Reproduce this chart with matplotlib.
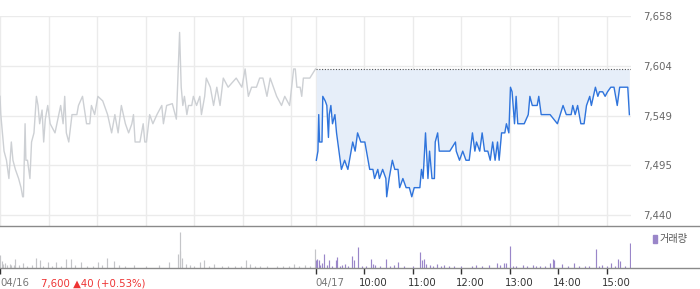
import numpy as np
import matplotlib
matplotlib.use('Agg')
import matplotlib.pyplot as plt
from matplotlib.lines import Line2D
from matplotlib.transforms import offset_copy

plt.rcParams['font.family'] = ['DejaVu Sans', 'Noto Sans CJK KR']

# minutes after 09:00, previous day (04/16)
prev_min = [0, 1, 5, 8, 11, 14, 16, 19, 23, 26, 28, 29, 31, 32, 34, 37, 39, 42, 45, 47,
            49, 52, 54, 56, 59, 62, 68, 75, 78, 80, 82, 85, 89, 95, 97, 102, 107, 111, 113, 117,
            121, 127, 133, 138, 142, 146, 150, 155, 159, 163, 165, 167, 173, 177, 179, 181, 185, 189, 194, 200,
            202, 206, 213, 218, 222, 224, 226, 228, 231, 233, 237, 239, 243, 247, 249, 253, 255, 260, 264, 268,
            272, 276, 282, 292, 299, 303, 307, 311, 317, 321, 325, 330, 334, 338, 342, 348, 352, 358, 363, 365,
            367, 371, 373, 375, 383, 390]
prev_price = [7570, 7550, 7510, 7500, 7480, 7520, 7500, 7490, 7480, 7470, 7460, 7460, 7540, 7500, 7500, 7480, 7520, 7530, 7570, 7560,
              7540, 7555, 7520, 7545, 7560, 7540, 7530, 7560, 7540, 7570, 7530, 7520, 7550, 7550, 7560, 7570, 7540, 7540, 7560, 7550,
              7570, 7565, 7550, 7530, 7550, 7530, 7560, 7540, 7530, 7540, 7550, 7520, 7520, 7540, 7520, 7520, 7550, 7540, 7550, 7560,
              7540, 7560, 7562, 7545, 7640, 7580, 7560, 7570, 7550, 7560, 7560, 7570, 7560, 7570, 7550, 7570, 7590, 7580, 7560, 7580,
              7560, 7590, 7580, 7590, 7580, 7600, 7570, 7580, 7580, 7590, 7590, 7570, 7590, 7580, 7570, 7560, 7570, 7560, 7600, 7600,
              7580, 7580, 7570, 7590, 7590, 7600]

# minutes after 09:00, today (04/17)
today_min = [1, 3, 4, 5, 8, 9, 12, 14, 16, 17, 19, 21, 24, 26, 29, 32, 36, 40, 42, 46,
             49, 52, 56, 61, 65, 67, 71, 73, 77, 79, 83, 87, 88, 91, 95, 98, 102, 104, 108, 112,
             116, 119, 122, 129, 131, 133, 136, 139, 141, 144, 147, 148, 151, 153, 157, 166, 173, 174, 178, 182,
             186, 190, 194, 197, 199, 203, 206, 209, 213, 216, 219, 222, 225, 227, 230, 234, 236, 239, 241, 243,
             246, 248, 250, 258, 263, 265, 268, 274, 276, 279, 290, 299, 306, 310, 316, 318, 321, 324, 328, 332,
             335, 339, 341, 346, 349, 351, 355, 358, 361, 365, 369, 373, 376, 386, 388]
today_price = [7500, 7510, 7550, 7520, 7520, 7570, 7565, 7560, 7525, 7550, 7560, 7540, 7550, 7530, 7510, 7490, 7500, 7490, 7500, 7520,
               7510, 7530, 7520, 7520, 7500, 7490, 7490, 7480, 7490, 7480, 7490, 7480, 7460, 7480, 7500, 7490, 7490, 7470, 7480, 7470,
               7470, 7460, 7470, 7470, 7490, 7480, 7530, 7480, 7510, 7480, 7480, 7520, 7530, 7510, 7510, 7510, 7520, 7510, 7500, 7510,
               7500, 7500, 7530, 7510, 7520, 7510, 7530, 7510, 7510, 7500, 7520, 7500, 7520, 7500, 7530, 7530, 7540, 7530, 7580, 7575,
               7540, 7570, 7540, 7540, 7550, 7570, 7560, 7560, 7570, 7550, 7550, 7540, 7560, 7550, 7550, 7560, 7550, 7560, 7540, 7540,
               7560, 7570, 7560, 7580, 7570, 7575, 7575, 7570, 7575, 7580, 7580, 7560, 7580, 7580, 7550]

prev_close = 7600

# volume (relative)
prev_vol_min = [0, 2, 4, 6, 9, 12, 14, 17, 19, 24, 28, 33, 40, 45, 49, 53, 59, 64, 69, 75,
                81, 88, 93, 100, 108, 115, 121, 126, 132, 141, 147, 155, 166, 180, 196, 209, 220, 222, 223, 225,
                230, 235, 240, 247, 252, 258, 265, 274, 282, 290, 298, 304, 309, 315, 322, 330, 343, 350, 357, 363,
                370, 377, 383, 389]
prev_vol = [13, 7, 4, 5, 3, 4, 3, 3, 9, 3, 5, 2, 3, 10, 8, 2, 6, 2, 6, 2,
            9, 9, 3, 6, 2, 2, 6, 3, 10, 7, 3, 2, 3, 2, 3, 6, 14, 36, 17, 10,
            4, 3, 2, 6, 8, 2, 4, 2, 2, 2, 2, 8, 4, 2, 2, 2, 2, 2, 2, 4,
            2, 3, 2, 19]
today_vol_min = [0, 2, 4, 6, 8, 11, 14, 17, 21, 25, 26, 30, 33, 36, 40, 45, 47, 52, 58, 63,
                 69, 71, 74, 80, 87, 92, 97, 102, 110, 120, 129, 132, 134, 137, 141, 145, 150, 155, 159, 165,
                 171, 180, 194, 199, 206, 215, 224, 228, 233, 235, 240, 244, 248, 257, 262, 269, 273, 278, 284, 290,
                 293, 295, 305, 312, 319, 326, 333, 338, 347, 350, 354, 360, 365, 370, 374, 376, 382, 389]
today_vol = [8, 9, 8, 3, 5, 14, 3, 8, 2, 8, 11, 2, 3, 4, 2, 12, 8, 21, 2, 2,
             9, 4, 3, 2, 9, 2, 3, 6, 2, 2, 16, 8, 9, 4, 3, 2, 4, 2, 3, 2,
             2, 2, 2, 3, 2, 3, 5, 3, 5, 5, 22, 2, 2, 3, 2, 3, 2, 2, 2, 5,
             9, 8, 4, 2, 5, 2, 2, 2, 19, 2, 3, 2, 5, 2, 9, 7, 2, 25]

day_len = 390
hour_ticks = [0, 60, 120, 180, 240, 300, 360]
tick_labels = ['04/17', '10:00', '11:00', '12:00', '13:00', '14:00', '15:00']
ytick_vals = [7440, 7494.5, 7549, 7603.5, 7658]
ytick_labels = ['7,440', '7,495', '7,549', '7,604', '7,658']

fig = plt.figure(figsize=(7, 2.89), dpi=100)
ax = fig.add_axes([0, 1 - 226 / 289, 631 / 700, 210 / 289])
vax = fig.add_axes([0, 1 - 268 / 289, 631 / 700, 42 / 289])

today_x = np.array(today_min) + day_len

# grid
for x in [0] + [h for h in hour_ticks[1:]] + [day_len] + [h + day_len for h in hour_ticks[1:]]:
    ax.axvline(x, color='#ebebeb', lw=1, zorder=0)
for y in ytick_vals:
    ax.axhline(y, color='#ebebeb', lw=1, zorder=0)

ax.fill_between(today_x, today_price, prev_close, color='#e6eef9', lw=0, zorder=1)
ax.plot([day_len, 2 * day_len], [prev_close, prev_close], color='#555555', lw=0.8,
        linestyle=(0, (1, 1.5)), zorder=2)
ax.plot(prev_min, prev_price, color='#cdd0d4', lw=1, zorder=3)
ax.plot(today_x, today_price, color='#2f74dc', lw=1.0, zorder=4)

ax.set_xlim(0, 2 * day_len)
ax.set_ylim(7428, 7658)
ax.yaxis.tick_right()
ax.set_yticks(ytick_vals)
ax.set_yticklabels(ytick_labels)
ax.tick_params(axis='y', length=0, pad=9, labelsize=7.3, labelcolor='#666666')
ax.tick_params(axis='x', length=0, labelbottom=False)
for s in ax.spines.values():
    s.set_visible(False)

# volume
vax.vlines(prev_vol_min, 0, prev_vol, color='#c4c5c8', lw=0.85)
vax.vlines(np.array(today_vol_min) + day_len, 0, today_vol, color='#9a86c9', lw=0.85)
vax.set_xlim(0, 2 * day_len)
vax.set_ylim(0, 42)
vax.set_yticks([])
for s in vax.spines.values():
    s.set_visible(False)
vax.set_xticks([0] + [h + day_len for h in hour_ticks])
vax.set_xticklabels([])
vax.tick_params(axis='x', length=4, width=1, color='#333333', direction='out')

for h, lab in zip(hour_ticks, tick_labels):
    col = '#777777' if lab.startswith('04') else '#333333'
    x_tr = offset_copy(vax.get_xaxis_transform(), fig=fig, x=(0 if h == 0 else -5), y=-15, units='dots')
    vax.text(h + day_len, 0, lab, transform=x_tr, ha='left', va='center', fontsize=7.3, color=col)

fig.text(0, 1 - 283 / 289, '04/16', ha='left', va='center', fontsize=7.3, color='#777777')
fig.text(41 / 700, 1 - 283 / 289, '7,600 \u25b240 (+0.53%)', ha='left', va='center',
         fontsize=7.3, color='#ee3333')

# legend
fig.patches.append(plt.Rectangle((653 / 700, 1 - 243 / 289), 4 / 700, 8 / 289,
                                 transform=fig.transFigure, color='#9a86c9'))
fig.text(660 / 700, 1 - 239 / 289, '거래량', ha='left', va='center', fontsize=7.3,
         color='#555555', family=['Noto Sans CJK KR'])

# separator lines
fig.add_artist(Line2D([0, 1], [1 - 226 / 289, 1 - 226 / 289], color='#8a8a8a', lw=1))
fig.add_artist(Line2D([0, 1], [1 - 268 / 289, 1 - 268 / 289], color='#8a8a8a', lw=1))

fig.savefig('out.png', dpi=100)
